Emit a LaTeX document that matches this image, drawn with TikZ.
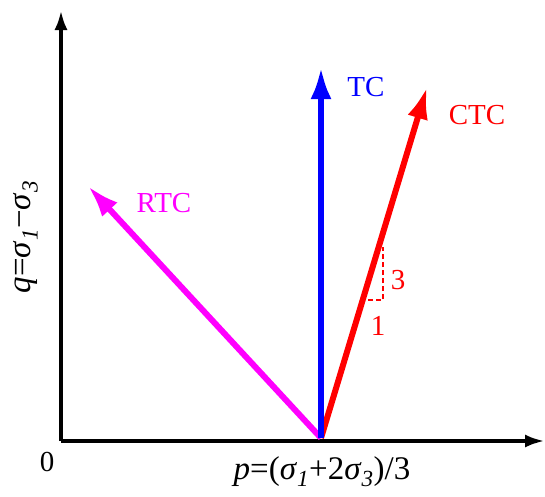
\documentclass[tikz,border=0pt]{standalone}
\usepackage{fontspec}
\setmainfont{Liberation Serif}
\usetikzlibrary{arrows.meta,positioning}
\definecolor{TCc}{HTML}{0000FF}
\definecolor{CTCc}{HTML}{FF0000}
\definecolor{RTCc}{HTML}{FF00FF}
\tikzset{
  ax/.style={-{Latex[length=20pt, width=13pt]}, line width=4pt, black},
  spath/.style={-{Latex[length=32pt, width=21pt]}, line width=6pt},
  lbl/.style={font=\fontsize{29}{33}\selectfont, inner sep=0pt},
  axlbl/.style={font=\fontsize{33}{38}\selectfont, inner sep=0pt},
  slope/.style={CTCc, dashed, line width=1.2pt, dash pattern=on 5pt off 3pt},
}
\newcommand{\sig}[1]{\textit{σ}\textsubscript{\textit{#1}}}

\begin{document}
\begin{tikzpicture}[x=1pt, y=-1pt]
  \useasboundingbox (0,0) rectangle (545,496);
  % axes
  \coordinate (ax0) at (61,441);
  \coordinate (axY) at (61,10);
  \coordinate (axX) at (545,441);
  \draw[ax] (ax0) -- (axY);
  \draw[ax] (ax0) -- (axX);
  \node[lbl] (zero) at (47,462) {0};
  \node[axlbl] (plab) at (322,472) {\textit{p}=(\sig{1}+2\sig{3})/3};
  \node[axlbl, rotate=90] (qlab) at (26,237) {\textit{q}=\sig{1}−\sig{3}};
  % stress paths
  \coordinate (O) at (321,438);
  \coordinate (tcTip) at (321,67);
  \coordinate (ctcTip) at (427,87);
  \coordinate (rtcTip) at (88,186);
  \draw[spath, RTCc] (O) -- (rtcTip);
  \draw[spath, CTCc] (O) -- (ctcTip);
  \draw[spath, TCc] (O) -- (tcTip);
  \node[lbl, TCc] (tc) at (366,87) {TC};
  \node[lbl, CTCc] (ctc) at (477,115) {CTC};
  \node[lbl, RTCc] (rtc) at (164,203) {RTC};
  % slope 1:3
  \coordinate (sA) at (368,300);
  \coordinate (sB) at (383,300);
  \coordinate (sC) at (383,247);
  \draw[slope] (sA) -- (sB) -- (sC);
  \node[lbl, CTCc] (three) at (398,280) {3};
  \node[lbl, CTCc] (one) at (378,326) {1};
\end{tikzpicture}
\end{document}
